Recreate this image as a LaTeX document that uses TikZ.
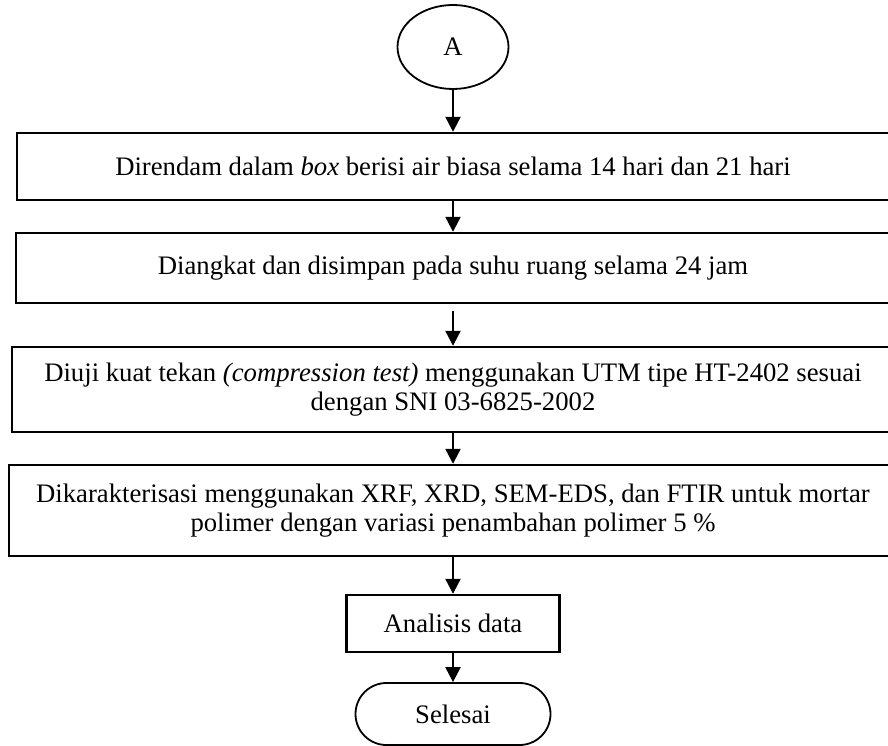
\documentclass[tikz,border=0pt]{standalone}
\usepackage{fontspec}
\setmainfont{Liberation Serif}
\usetikzlibrary{shapes.geometric,shapes.misc,arrows.meta}
\tikzset{
  prosesbox/.style={draw, line width=2.4pt, align=center, inner sep=0pt},
  ujung/.style={draw, line width=1.8pt, inner sep=0pt},
  alir/.style={-{Triangle[length=15pt,width=15pt]}, line width=2.2pt},
}
\begin{document}
\begin{tikzpicture}[x=1pt,y=-1pt,font=\fontsize{26.7}{29}\selectfont]
\useasboundingbox (0,0) rectangle (888,746);

\node[ujung, ellipse, minimum width=111pt, minimum height=84pt] (mulai) at (453,47) {A};

\node[prosesbox, minimum width=872pt, minimum height=67pt] (rendam) at (453,166.5)
  {Direndam dalam \textit{box} berisi air biasa selama 14 hari dan 21 hari};
\node[prosesbox, minimum width=874pt, minimum height=70pt] (simpan) at (453,268)
  {Diangkat dan disimpan pada suhu ruang selama 24 jam};
\node[prosesbox, minimum width=882pt, minimum height=85pt] (uji) at (453,389.5)
  {Diuji kuat tekan \textit{(compression test)} menggunakan UTM tipe HT-2402 sesuai\\
   dengan SNI 03-6825-2002};
\node[prosesbox, minimum width=888pt, minimum height=91pt] (karakter) at (453,510.5)
  {Dikarakterisasi menggunakan XRF, XRD, SEM-EDS, dan FTIR untuk mortar\\
   polimer dengan variasi penambahan polimer 5 \%};
\node[prosesbox, minimum width=213pt, minimum height=57pt] (analisis) at (453,623.5)
  {Analisis data};

\node[ujung, rounded rectangle, minimum width=195pt, minimum height=62pt] (selesai) at (453,714)
  {Selesai};

\draw[alir] (mulai.south) -- (rendam.north);
\draw[alir] (rendam.south) -- (simpan.north);
\draw[alir] ([yshift=-7pt]simpan.south) -- (uji.north);
\draw[alir] (uji.south) -- (karakter.north);
\draw[alir] (karakter.south) -- (analisis.north);
\draw[alir] (analisis.south) -- (selesai.north);
\end{tikzpicture}
\end{document}
